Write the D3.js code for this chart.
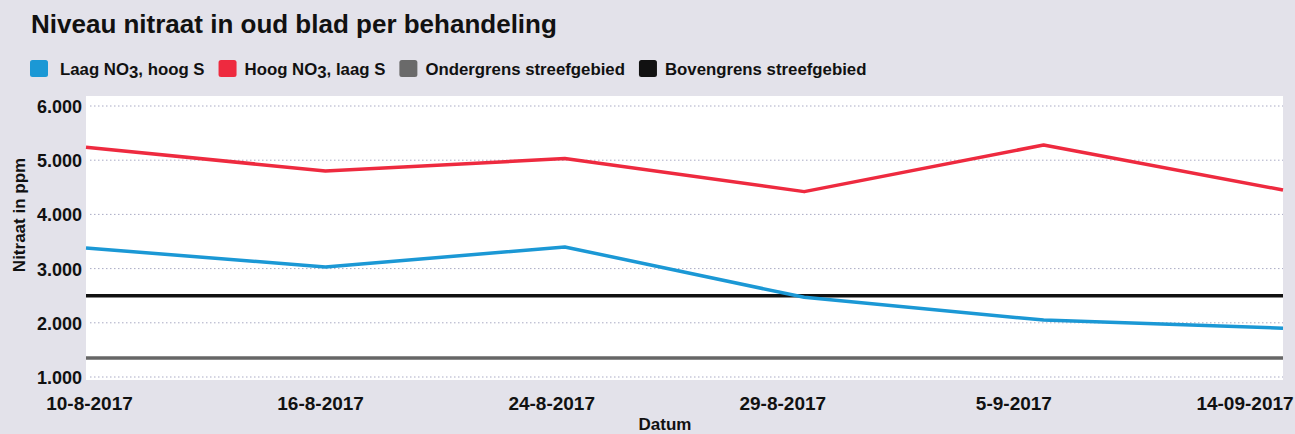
<!DOCTYPE html>
<html>
<head>
<meta charset="utf-8">
<script src="https://cdn.jsdelivr.net/npm/d3@7"></script>
<style>
  html, body { margin: 0; padding: 0; background: #e3e2ea; }
  svg { display: block; }
  .lbl { font-family: "Liberation Sans", Arial, sans-serif; font-weight: bold; fill: #111; }
</style>
</head>
<body>
<svg id="chart" width="1295" height="434"></svg>
<script>
const dates   = ['10-8-2017', '16-8-2017', '24-8-2017', '29-8-2017', '5-9-2017', '14-09-2017'];
const laagNO3 = [3380, 3030, 3400, 2470, 2050, 1900];   // Laag NO3, hoog S
const hoogNO3 = [5240, 4800, 5030, 4420, 5280, 4450];   // Hoog NO3, laag S
const ondergrens = [1350, 1350, 1350, 1350, 1350, 1350];
const bovengrens = [2500, 2500, 2500, 2500, 2500, 2500];
const yTicks = [1000, 2000, 3000, 4000, 5000, 6000];

const legendItems = [
  { pre: 'Laag NO', sub: '3', post: ', hoog S', color: '#1b98d5' },
  { pre: 'Hoog NO', sub: '3', post: ', laag S', color: '#ee2a3f' },
  { pre: 'Ondergrens streefgebied', color: '#6a6a6a' },
  { pre: 'Bovengrens streefgebied', color: '#111111' },
];

const series = [
  { values: ondergrens, color: '#666666' },
  { values: bovengrens, color: '#111111' },
  { values: laagNO3,   color: '#1b98d5' },
  { values: hoogNO3,   color: '#ee2a3f' },
];

const svg = d3.select('#chart');
const plot = { left: 86, right: 1283, top: 96, bottom: 380 };

const x = d3.scalePoint().domain(dates).range([plot.left, plot.right]);
// tick labels sit slightly inward from the data points, as in the original
const xLabel = d3.scalePoint().domain(dates).range([89.5, 1245]);
const y = d3.scaleLinear().domain([1000, 6000]).range([377, 106]);

// title
svg.append('text')
  .attr('class', 'lbl')
  .attr('x', 31).attr('y', 33)
  .style('font-size', '26px')
  .text('Niveau nitraat in oud blad per behandeling');

// legend
let lx = 30;
legendItems.forEach((item, i) => {
  svg.append('rect')
    .attr('x', lx).attr('y', 60).attr('width', 18).attr('height', 17).attr('rx', 2.5)
    .attr('fill', item.color);
  const off = i === 0 ? 30 : 26;
  const t = svg.append('text').attr('class', 'lbl')
    .attr('x', lx + off).attr('y', 75).style('font-size', '16.8px');
  t.append('tspan').text(item.pre);
  if (item.sub) {
    t.append('tspan').attr('dy', 3).text(item.sub);
    t.append('tspan').attr('dy', -3).text(item.post);
  }
  lx += off + t.node().getComputedTextLength() + 14;
});

// plot background
svg.append('rect')
  .attr('x', plot.left).attr('y', plot.top)
  .attr('width', plot.right - plot.left).attr('height', plot.bottom - plot.top)
  .attr('fill', '#ffffff');

// gridlines
svg.append('g')
  .selectAll('line')
  .data(yTicks)
  .join('line')
  .attr('x1', plot.left + 4).attr('x2', plot.right)
  .attr('y1', d => y(d)).attr('y2', d => y(d))
  .attr('stroke', '#a9aac4')
  .attr('stroke-width', 1)
  .attr('stroke-dasharray', '1.5,2.5');

// y tick labels
svg.append('g')
  .selectAll('text')
  .data(yTicks)
  .join('text')
  .attr('class', 'lbl')
  .attr('x', 82).attr('y', d => y(d) + 7)
  .attr('text-anchor', 'end')
  .style('font-size', '18px')
  .text(d => d3.format(',')(d).replace(',', '.'));

// y axis title
svg.append('text')
  .attr('class', 'lbl')
  .attr('transform', 'translate(25,215) rotate(-90)')
  .attr('text-anchor', 'middle')
  .style('font-size', '17px')
  .text('Nitraat in ppm');

// x tick labels
svg.append('g')
  .selectAll('text')
  .data(dates)
  .join('text')
  .attr('class', 'lbl')
  .attr('x', d => xLabel(d)).attr('y', 410)
  .attr('text-anchor', 'middle')
  .style('font-size', '19px')
  .text(d => d);

// x axis title
svg.append('text')
  .attr('class', 'lbl')
  .attr('x', 665).attr('y', 430)
  .attr('text-anchor', 'middle')
  .style('font-size', '17px')
  .text('Datum');

// lines
const line = d3.line()
  .x((d, i) => x(dates[i]))
  .y(d => y(d));

svg.append('g')
  .selectAll('path')
  .data(series)
  .join('path')
  .attr('d', d => line(d.values))
  .attr('fill', 'none')
  .attr('stroke', d => d.color)
  .attr('stroke-width', 3.5)
  .attr('stroke-linejoin', 'round');
</script>
</body>
</html>
